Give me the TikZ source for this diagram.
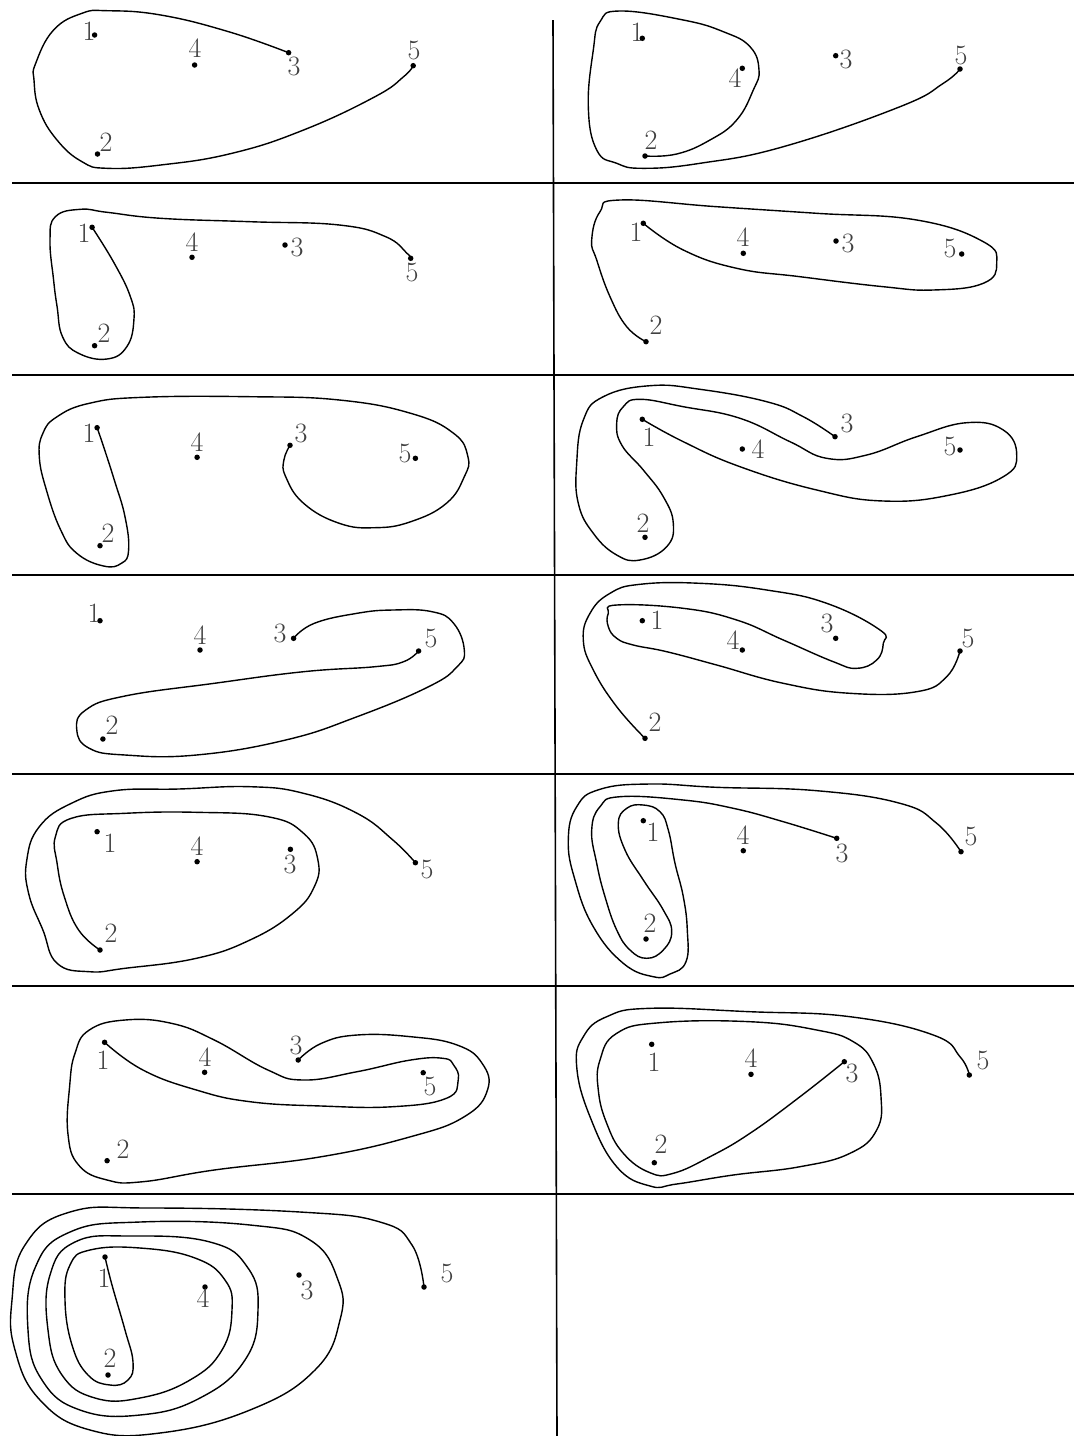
\documentclass[tikz,border=0pt]{standalone}
\begin{document}
\begin{tikzpicture}[x=1pt,y=-1pt,
  curve/.style={line width=1.4pt, line join=round, line cap=round},
  gridline/.style={line width=1.6pt},
  pt/.style={circle, fill=black, inner sep=0pt, minimum size=5.5pt},
  lab/.style={inner sep=0pt, text=black!75, font=\fontsize{28}{30}\selectfont},
  sm/.style={smooth, tension=0.75}]
\useasboundingbox (0,0) rectangle (1074,1436);
% grid
\coordinate (v0) at (553,20); \coordinate (v1) at (557,1436);
\draw[gridline] (v0) -- (v1);
\foreach \yy/\nm in {183/h1,375/h2,575/h3,774/h4,986/h5,1194/h6}{
  \coordinate (\nm a) at (12,\yy); \coordinate (\nm b) at (1074,\yy);
  \draw[gridline] (\nm a) -- (\nm b);}
% ---------- panel 1
\node[pt] (a1) at (94.6,35) {}; \node[pt] (a2) at (97.5,154) {}; \node[pt] (a3) at (288.6,52.7) {};
\node[pt] (a4) at (194.6,65) {}; \node[pt] (a5) at (413.2,65.7) {};
\node[lab] (a1l) at (89,31) {1}; \node[lab] (a4l) at (195,48) {4}; \node[lab] (a3l) at (294,66) {3};
\node[lab] (a5l) at (414,50) {5}; \node[lab] (a2l) at (106,142) {2};
\draw[curve] plot[sm] coordinates {(a3.center) (228.6,31.7) (160.7,15) (107,10.7) (82,13.3) (53.6,30) (35.7,63.3) (34,80) (39.3,110) (57,140) (82,161.7) (107,168.3) (160.7,165) (232,153.3) (303.6,130) (375,96.7) (403.6,76.7) (a5.center)};
% ---------- panel 2
\node[pt] (b1) at (642.3,38.3) {}; \node[pt] (b2) at (645,156) {}; \node[pt] (b3) at (835.7,55.7) {};
\node[pt] (b4) at (742.3,68.3) {}; \node[pt] (b5) at (960,69) {};
\node[lab] (b1l) at (637,32) {1}; \node[lab] (b4l) at (735,78) {4}; \node[lab] (b3l) at (846,59) {3};
\node[lab] (b5l) at (961,55) {5}; \node[lab] (b2l) at (651,140) {2};
\draw[curve] plot[sm] coordinates {(b2.center) (676.7,154) (710,140) (736.7,120) (753.3,90) (759,70) (750,46.7) (723.3,31.7) (683.3,20) (620,11) (600,21.7) (593.3,50) (588.3,106.7) (596.7,150) (616.7,163.3) (643.3,168.3) (700,163.3) (783.3,146.7) (900,106.7) (943.3,83.3) (b5.center)};
% ---------- panel 3
\node[pt] (c1) at (92.1,227.3) {}; \node[pt] (c2) at (94.6,345.7) {}; \node[pt] (c3) at (285,245) {};
\node[pt] (c4) at (192,257.3) {}; \node[pt] (c5) at (410.7,258.3) {};
\node[lab] (c1l) at (84,233) {1}; \node[lab] (c4l) at (192,242) {4}; \node[lab] (c3l) at (297,247) {3};
\node[lab] (c5l) at (412,272) {5}; \node[lab] (c2l) at (104,333) {2};
\draw[curve] plot[sm] coordinates {(c1.center) (114.3,263.3) (130.4,296.7) (133.9,320) (126.8,346.7) (107.1,359) (78.6,353.3) (62.5,336.7) (57.1,306.7) (53.6,280) (50,240) (55.4,216.7) (80.4,209.3) (107.1,212.3) (160.7,218.3) (250,221.7) (339.3,225) (385.7,236.7) (407,253.3) (c5.center)};
% ---------- panel 4
\node[pt] (d1) at (643.3,223.3) {}; \node[pt] (d2) at (646,341.7) {}; \node[pt] (d3) at (836,241) {};
\node[pt] (d4) at (743.3,253.3) {}; \node[pt] (d5) at (961.7,254) {};
\node[lab] (d1l) at (636,232) {1}; \node[lab] (d4l) at (743,237) {4}; \node[lab] (d3l) at (848,243) {3};
\node[lab] (d5l) at (950,248) {5}; \node[lab] (d2l) at (656,325) {2};
\draw[curve] plot[sm] coordinates {(d1.center) (683.3,250) (736.7,268.3) (800,276.7) (883.3,286.7) (933.3,290) (983.3,283.3) (996.7,263.3) (983.3,241.7) (916.7,220) (816.7,213.3) (716.7,206.7) (620,200) (600,211.7) (591.7,240) (596.7,260) (610,296.7) (626.7,326.7) (d2.center)};
% ---------- panel 5
\node[pt] (e1) at (97.1,427.7) {}; \node[pt] (e2) at (100,545.7) {}; \node[pt] (e3) at (290,445.3) {};
\node[pt] (e4) at (197.1,457.3) {}; \node[pt] (e5) at (415.4,458.3) {};
\node[lab] (e1l) at (89,433) {1}; \node[lab] (e4l) at (197,442) {4}; \node[lab] (e3l) at (301,433) {3};
\node[lab] (e5l) at (405,453) {5}; \node[lab] (e2l) at (108,533) {2};
\draw[curve] plot[sm] coordinates {(e3.center) (283.9,460) (285.7,476.7) (303.6,503.3) (339.3,523.3) (375,527.7) (410.7,521.7) (446.4,503.3) (464.3,476.7) (467.9,456.7) (453.6,433.3) (410.7,413.3) (339.3,400) (250,396.7) (142.9,397.3) (89.3,403.3) (57.1,416.7) (42.9,433.3) (39.3,456.7) (46.4,490) (60.7,530) (76.8,553.3) (103.6,566) (121.4,563.3) (128.6,550) (125,516.7) (114.3,480) (103.6,446.7) (e1.center)};
% ---------- panel 6
\node[pt] (f1) at (642.3,419.3) {}; \node[pt] (f2) at (645,537.3) {}; \node[pt] (f3) at (835,436.7) {};
\node[pt] (f4) at (742.3,449) {}; \node[pt] (f5) at (960,450) {};
\node[lab] (f1l) at (649,437) {1}; \node[lab] (f4l) at (758,449) {4}; \node[lab] (f3l) at (847,423) {3};
\node[lab] (f5l) at (950,446) {5}; \node[lab] (f2l) at (643,523) {2};
\draw[curve] plot[sm] coordinates {(f1.center) (683.3,441.7) (740,466.7) (816.7,490) (883.3,501) (950,495) (1003.3,476.7) (1016.7,455) (1003.3,430) (966.7,422.7) (916.7,436.7) (866.7,455) (826.7,458.3) (790,441.7) (740,418.3) (683.3,406.7) (640,399.3) (623.3,406.7) (616.7,423.3) (621.7,445) (643.3,470) (663.3,496.7) (673.3,523.3) (666.7,546.7) (640,560) (616.7,555) (593.3,533.3) (578.3,503.3) (576.7,463.3) (583.3,420) (603.3,396.7) (650,385.7) (700,389.3) (766.7,401.7) (803.3,416.7) (f3.center)};
% ---------- panel 7
\node[pt] (g1) at (100,620.7) {}; \node[pt] (g2) at (102.9,739) {}; \node[pt] (g3) at (293.6,638.3) {};
\node[pt] (g4) at (200,650) {}; \node[pt] (g5) at (418.6,651) {};
\node[lab] (g1l) at (94,613) {1}; \node[lab] (g4l) at (200,635) {4}; \node[lab] (g3l) at (280,633) {3};
\node[lab] (g5l) at (431,638) {5}; \node[lab] (g2l) at (112,725) {2};
\draw[curve] plot[sm] coordinates {(g3.center) (314.3,623.3) (357.1,613.3) (392.9,610) (432.1,611.7) (453.6,623.3) (464.3,650) (457.1,666.7) (428.6,686.7) (357.1,716.7) (285.7,740) (196.4,755) (125,755) (89.3,748.3) (76.8,730) (85.7,710) (125,696) (214.3,683.3) (303.6,671.7) (375,666.7) (403.6,661.7) (g5.center)};
% ---------- panel 8
\node[pt] (h1) at (642.3,620.7) {}; \node[pt] (h2) at (645,738.3) {}; \node[pt] (h3) at (835.7,638.3) {};
\node[pt] (h4) at (742.3,650) {}; \node[pt] (h5) at (960,651) {};
\node[lab] (h1l) at (657,620) {1}; \node[lab] (h4l) at (733,640) {4}; \node[lab] (h3l) at (827,623) {3};
\node[lab] (h5l) at (968,638) {5}; \node[lab] (h2l) at (655,722) {2};
\draw[curve] plot[sm] coordinates {(h2.center) (616.7,706.7) (593.3,670) (583.3,640) (590,613.3) (610,593.3) (640,584.3) (700,583.3) (766.7,590) (826.7,603.3) (880,630) (883.3,643.3) (876.7,660) (856.7,668.3) (833.3,661.7) (783.3,640) (736.7,620) (683.3,608.3) (616.7,605) (608.3,613.3) (608.3,626.7) (616.7,638.3) (633.3,645) (666.7,651.7) (716.7,665) (783.3,683.3) (850,693.3) (916.7,691.7) (946.7,676.7) (h5.center)};
% ---------- panel 9
\node[pt] (i1) at (97.1,831.7) {}; \node[pt] (i2) at (100,950) {}; \node[pt] (i3) at (290.4,849.3) {};
\node[pt] (i4) at (197.1,861.7) {}; \node[pt] (i5) at (415.4,862.7) {};
\node[lab] (i1l) at (110,843) {1}; \node[lab] (i4l) at (197,846) {4}; \node[lab] (i3l) at (290,864) {3};
\node[lab] (i5l) at (427,869) {5}; \node[lab] (i2l) at (111,933) {2};
\draw[curve] plot[sm] coordinates {(i2.center) (78.6,930) (64.3,896.7) (57.1,863.3) (55.4,836.7) (71.4,818.3) (125,813.3) (196.4,812.3) (267.9,816.7) (303.6,833.3) (317.9,860) (314.3,886.7) (292.9,913.3) (250,940) (196.4,958.3) (125,968.3) (89.3,971.7) (57.1,963.3) (42.9,930) (28.6,893.3) (26.8,860) (39.3,826.7) (71.4,803.3) (114.3,790.7) (178.6,789) (250,786.7) (303.6,793.3) (357.1,813.3) (392.9,840) (i5.center)};
% ---------- panel 10
\node[pt] (j1) at (643.3,820.7) {}; \node[pt] (j2) at (646,939) {}; \node[pt] (j3) at (836.7,838.3) {};
\node[pt] (j4) at (743.3,850.7) {}; \node[pt] (j5) at (961,851.7) {};
\node[lab] (j1l) at (653,832) {1}; \node[lab] (j4l) at (743,835) {4}; \node[lab] (j3l) at (842,853) {3};
\node[lab] (j5l) at (971,836) {5}; \node[lab] (j2l) at (650,923) {2};
\draw[curve] plot[sm] coordinates {(j3.center) (783.3,821.7) (733.3,808.3) (683.3,800) (620,796.7) (600,806.7) (591.7,830) (596.7,863.3) (605,896.7) (616.7,930) (630,950) (646.7,958.3) (663.3,950) (671.7,931.7) (663.3,910) (643.3,880) (625,850) (618.3,823.3) (626.7,808.3) (643.3,805) (660,811.7) (668.3,830) (675,863.3) (683.3,896.7) (687.3,930) (686,961.7) (670,974) (653.3,976.7) (623.3,963.3) (593.3,926.7) (575,880) (568.3,840) (576.7,806.7) (600,789.3) (650,784) (716.7,787.3) (816.7,790.7) (900,803.3) (936.7,823.3) (j5.center)};
% ---------- panel 11
\node[pt] (k1) at (104.6,1042.3) {}; \node[pt] (k2) at (107.1,1160.7) {}; \node[pt] (k3) at (298.2,1060) {};
\node[pt] (k4) at (204.6,1072.3) {}; \node[pt] (k5) at (423.2,1072.7) {};
\node[lab] (k1l) at (103,1060) {1}; \node[lab] (k4l) at (205,1057) {4}; \node[lab] (k3l) at (296,1045) {3};
\node[lab] (k5l) at (430,1086) {5}; \node[lab] (k2l) at (123,1149) {2};
\draw[curve] plot[sm] coordinates {(k1.center) (142.9,1070) (196.4,1090) (250,1101.7) (321.4,1106) (392.9,1106.7) (446.4,1098.3) (458.2,1080) (453.6,1065) (442.9,1058.3) (410.7,1060) (357.1,1071.7) (303.6,1080) (267.9,1070) (214.3,1040) (171.4,1023.3) (125,1020) (89.3,1030) (75,1053.3) (69.6,1086.7) (67.9,1133.3) (78.6,1165) (107.1,1180) (142.9,1181.7) (214.3,1170) (321.4,1156.7) (410.7,1136.7) (464.3,1116.7) (487.5,1090) (482.1,1063.3) (457.1,1045) (410.7,1036.7) (357.1,1035) (321.4,1043.3) (k3.center)};
% ---------- panel 12
\node[pt] (l1) at (651.7,1044.3) {}; \node[pt] (l2) at (654.3,1162.7) {}; \node[pt] (l3) at (844.3,1061.7) {};
\node[pt] (l4) at (751,1074.3) {}; \node[pt] (l5) at (969.3,1075) {};
\node[lab] (l1l) at (654,1062) {1}; \node[lab] (l4l) at (751,1058) {4}; \node[lab] (l3l) at (852,1073) {3};
\node[lab] (l5l) at (983,1060) {5}; \node[lab] (l2l) at (661,1144) {2};
\draw[curve] plot[sm] coordinates {(l3.center) (800,1096.7) (750,1133.3) (710,1156.7) (673.3,1173.3) (650,1172.7) (623.3,1153.3) (606.7,1123.3) (598.3,1090) (600,1060) (616.7,1033.3) (660,1022.7) (750,1021.7) (816.7,1030) (853.3,1041.7) (873.3,1063.3) (881,1096.7) (876.7,1130) (850,1153.3) (800,1166.7) (733.3,1175) (676.7,1184) (650,1186) (616.7,1166.7) (590,1116.7) (576.7,1066.7) (583.3,1036.7) (606.7,1016.7) (650,1008.3) (750,1011.7) (850,1016.7) (933.3,1035) (960,1056.7) (l5.center)};
% ---------- panel 13
\node[pt] (m1) at (105,1257) {}; \node[pt] (m2) at (108,1375) {}; \node[pt] (m3) at (299,1275) {};
\node[pt] (m4) at (205,1287) {}; \node[pt] (m5) at (424,1287) {};
\node[lab] (m1l) at (104,1278) {1}; \node[lab] (m4l) at (203,1298) {4}; \node[lab] (m3l) at (307,1290) {3};
\node[lab] (m5l) at (447,1273) {5}; \node[lab] (m2l) at (110,1358) {2};
\draw[curve] plot[sm] coordinates {(m1.center) (112,1285) (125,1330) (133,1362) (128,1380) (110,1385) (88,1375) (72,1345) (65,1300) (70,1265) (90,1250) (140,1248) (195,1258) (225,1280) (232,1310) (222,1350) (190,1380) (140,1398) (95,1398) (62,1375) (48,1330) (50,1275) (75,1242) (130,1236) (210,1242) (248,1268) (258,1310) (245,1360) (200,1398) (140,1415) (80,1410) (42,1380) (28,1330) (35,1268) (70,1232) (140,1222) (250,1225) (310,1240) (338,1280) (340,1320) (315,1370) (250,1410) (160,1433) (90,1430) (40,1400) (15,1350) (12,1300) (25,1245) (70,1212) (150,1208) (300,1212) (380,1222) (412,1245) (m5.center)};
\end{tikzpicture}
\end{document}
